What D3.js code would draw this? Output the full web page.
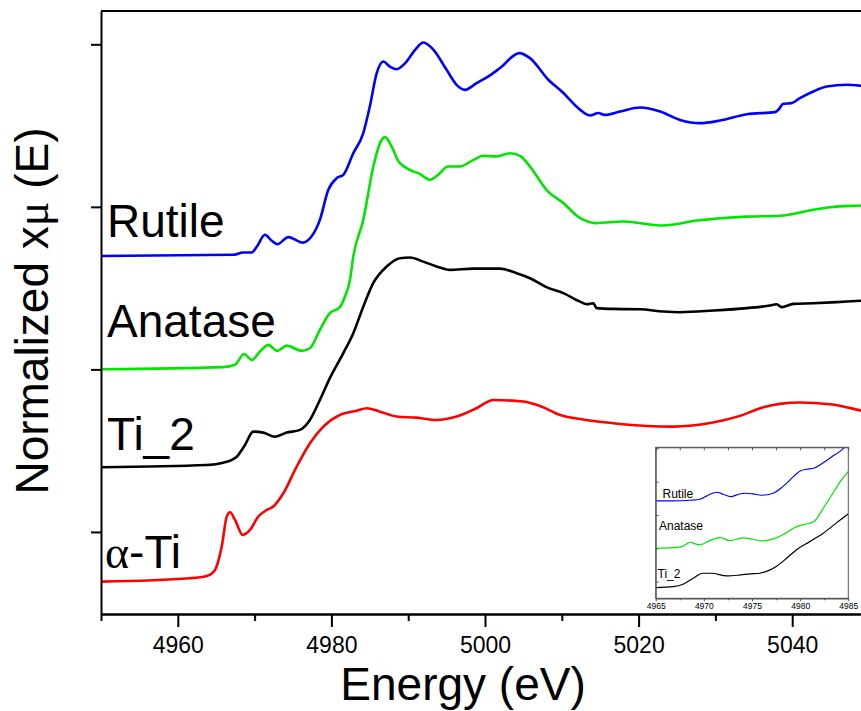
<!DOCTYPE html>
<html>
<head>
<meta charset="utf-8">
<script src="https://cdn.jsdelivr.net/npm/d3@7/dist/d3.min.js"></script>
<style>
  html, body { margin: 0; padding: 0; background: #fff; }
  svg { display: block; }
  text { font-family: "Liberation Sans", Arial, sans-serif; fill: #000; }
</style>
</head>
<body>
<svg id="chart" width="861" height="711"></svg>
<script>
// ---- Ti K-edge XANES spectra (stacked, normalized) ----
const rutileE = [4950, 4967.2, 4968.5, 4969.6, 4970.3, 4971.35, 4972.2, 4972.96, 4974.4, 4976.3, 4977.4, 4978.5, 4979.6, 4980.7, 4981.55, 4982.85, 4984.15, 4985.0, 4985.9, 4986.76, 4987.6, 4988.5, 4989.6, 4990.9, 4991.97, 4993.3, 4995.0, 4996.3, 4997.4, 4998.9, 5000.65, 5001.95, 5004.47, 5005.86, 5008.24, 5010.0, 5012.4, 5013.7, 5014.75, 5015.6, 5017.6, 5020.2, 5022.8, 5025.4, 5028.0, 5030.6, 5034.1, 5037.76, 5038.2, 5038.84, 5039.9, 5041.0, 5042.75, 5044.5, 5047.1, 5049.0, 5050];
const rutileMu = [1.698, 1.705, 1.719, 1.719, 1.756, 1.828, 1.793, 1.770, 1.814, 1.780, 1.817, 1.920, 2.105, 2.177, 2.197, 2.330, 2.454, 2.617, 2.823, 2.894, 2.863, 2.847, 2.884, 2.966, 3.011, 2.966, 2.843, 2.751, 2.720, 2.761, 2.809, 2.854, 2.946, 2.915, 2.782, 2.710, 2.597, 2.562, 2.577, 2.566, 2.587, 2.611, 2.587, 2.535, 2.515, 2.531, 2.570, 2.583, 2.597, 2.634, 2.638, 2.669, 2.710, 2.740, 2.751, 2.745, 2.740];

const anataseE = [4950, 4965.9, 4967.45, 4968.62, 4969.62, 4970.7, 4971.78, 4972.96, 4974.18, 4976.13, 4977.2, 4978.5, 4979.8, 4981.1, 4981.77, 4982.42, 4982.85, 4984.15, 4985.46, 4986.33, 4986.98, 4987.85, 4988.7, 4990.2, 4991.5, 4992.84, 4993.9, 4995.2, 4996.7, 4998.5, 4999.8, 5001.5, 5003.26, 5004.56, 5005.86, 5008.0, 5010.2, 5012.4, 5014.5, 5018.0, 5023.2, 5027.6, 5034.1, 5038.4, 5042.75, 5044.9, 5049.0, 5050];
const anataseMu = [1.001, 1.014, 1.028, 1.095, 1.058, 1.110, 1.151, 1.114, 1.146, 1.114, 1.130, 1.243, 1.346, 1.383, 1.448, 1.551, 1.694, 1.920, 2.248, 2.392, 2.429, 2.371, 2.283, 2.228, 2.203, 2.166, 2.197, 2.248, 2.248, 2.289, 2.314, 2.310, 2.330, 2.314, 2.248, 2.105, 2.023, 1.930, 1.900, 1.910, 1.885, 1.916, 1.940, 1.945, 1.982, 1.998, 2.008, 2.010];

const ti2E = [4950, 4963.76, 4965.9, 4967.67, 4968.75, 4969.83, 4971.13, 4972.66, 4974.18, 4975.9, 4977.2, 4978.5, 4979.8, 4981.55, 4982.85, 4984.15, 4985.46, 4987.2, 4988.93, 4990.23, 4991.97, 4993.7, 4995.44, 4998.5, 5001.95, 5004.13, 5005.86, 5008.0, 5010.2, 5012.37, 5013.24, 5014.1, 5014.54, 5016.7, 5020.2, 5023.2, 5025.4, 5029.7, 5034.1, 5037.1, 5037.98, 5038.63, 5040.14, 5042.75, 5045.8, 5049.0, 5050];
const ti2Mu = [0.398, 0.412, 0.426, 0.463, 0.535, 0.617, 0.611, 0.586, 0.611, 0.628, 0.689, 0.812, 0.946, 1.100, 1.223, 1.386, 1.532, 1.633, 1.684, 1.688, 1.663, 1.633, 1.612, 1.620, 1.620, 1.592, 1.561, 1.506, 1.469, 1.417, 1.401, 1.407, 1.377, 1.372, 1.370, 1.356, 1.352, 1.362, 1.377, 1.393, 1.401, 1.383, 1.403, 1.407, 1.414, 1.422, 1.424];

const alphaTiE = [4950, 4961.6, 4963.76, 4964.84, 4965.72, 4966.37, 4966.8, 4967.45, 4968.45, 4969.4, 4970.48, 4971.58, 4972.43, 4973.74, 4975.48, 4977.21, 4978.95, 4981.12, 4983.29, 4984.6, 4986.33, 4988.5, 4991.1, 4993.7, 4996.3, 4998.9, 5001.08, 5005.0, 5007.16, 5009.77, 5012.37, 5016.7, 5021.05, 5024.5, 5029.7, 5033.2, 5036.24, 5038.4, 5041.0, 5044.9, 5049.0, 5050];
const alphaTiMu = [-0.306, -0.285, -0.271, -0.234, -0.090, 0.094, 0.121, 0.074, -0.018, 0.012, 0.094, 0.135, 0.156, 0.238, 0.402, 0.546, 0.648, 0.720, 0.746, 0.761, 0.740, 0.710, 0.703, 0.689, 0.710, 0.761, 0.812, 0.802, 0.775, 0.720, 0.695, 0.669, 0.652, 0.648, 0.673, 0.714, 0.767, 0.788, 0.796, 0.786, 0.746, 0.735];

// ---- pre-edge region (inset) ----
const insetRutileE = [4965.0, 4966.8, 4968.6, 4969.6, 4970.5, 4971.3, 4972.0, 4972.8, 4973.6, 4974.3, 4975.1, 4976.0, 4977.2, 4978.2, 4979.3, 4980.0, 4980.7, 4981.4, 4982.2, 4983.3, 4984.1, 4984.6, 4985.0];
const insetRutileMu = [2.421, 2.421, 2.442, 2.472, 2.601, 2.682, 2.622, 2.550, 2.622, 2.652, 2.631, 2.592, 2.652, 2.850, 3.150, 3.321, 3.372, 3.402, 3.531, 3.750, 3.900, 4.026, 4.160];
const insetAnataseE = [4965.0, 4966.8, 4967.7, 4968.6, 4969.1, 4969.6, 4970.6, 4971.7, 4972.7, 4974.1, 4975.1, 4976.0, 4977.2, 4978.3, 4979.3, 4980.2, 4981.0, 4981.5, 4982.4, 4983.4, 4984.3, 4985.0];
const insetAnataseMu = [1.002, 1.020, 1.050, 1.182, 1.131, 1.101, 1.230, 1.320, 1.230, 1.311, 1.272, 1.221, 1.281, 1.422, 1.602, 1.701, 1.752, 1.821, 2.202, 2.652, 3.051, 3.300];
const insetTi2E = [4965.0, 4966.8, 4967.9, 4968.9, 4969.9, 4970.8, 4972.4, 4973.8, 4974.8, 4975.8, 4976.7, 4977.6, 4978.6, 4979.6, 4981.0, 4982.4, 4983.8, 4985.0];
const insetTi2Mu = [-0.180, -0.150, -0.069, 0.102, 0.252, 0.252, 0.171, 0.201, 0.231, 0.252, 0.330, 0.471, 0.702, 0.951, 1.200, 1.452, 1.770, 2.031];

// ---- ticks ----
const xMajorTicks = [4960, 4980, 5000, 5020, 5040];
const xMinorTicks = [4950, 4970, 4990, 5010, 5030, 5050];
const yTicks = [0, 1, 2, 3];
const insetXTicks = [4965, 4970, 4975, 4980, 4985];
const insetXMinorTicks = [4967.5, 4972.5, 4977.5, 4982.5];
const insetYTicks = [0, 1, 2, 3, 4];

const seriesNames = ["Rutile", "Anatase", "Ti_2", "α-Ti"];
const seriesColors = ["#0000ff", "#00e600", "#000000", "#ff0000"];

const zip = (E, M) => E.map((e, i) => ({ e, m: M[i] }));
const mainSeries = [
  zip(rutileE, rutileMu),
  zip(anataseE, anataseMu),
  zip(ti2E, ti2Mu),
  zip(alphaTiE, alphaTiMu)
];
const insetSeries = [
  zip(insetRutileE, insetRutileMu),
  zip(insetAnataseE, insetAnataseMu),
  zip(insetTi2E, insetTi2Mu)
];

const svg = d3.select("#chart");

// ---- main panel ----
const x = d3.scaleLinear().domain([4950, 5050]).range([101, 869]);
const y = d3.scaleLinear().domain([-0.505, 3.205]).range([614, 11]);

const defs = svg.append("defs");
defs.append("clipPath").attr("id", "mainClip")
  .append("rect").attr("x", 101).attr("y", 11).attr("width", 768).attr("height", 603);

const line = d3.line().x(d => x(d.e)).y(d => y(d.m)).curve(d3.curveMonotoneX);

svg.append("g").attr("clip-path", "url(#mainClip)")
  .selectAll("path").data(mainSeries).join("path")
  .attr("d", line)
  .attr("fill", "none")
  .attr("stroke", (d, i) => seriesColors[i])
  .attr("stroke-width", 2.6)
  .attr("stroke-linejoin", "round");

// frame: top and right borders
svg.append("path")
  .attr("d", `M${x(4950)},${y.range()[1]}H${x(5050)}V${y.range()[0]}`)
  .attr("fill", "none").attr("stroke", "#000").attr("stroke-width", 2);

// bottom axis (minor, then major with labels)
const xMinor = svg.append("g").attr("transform", `translate(0,${y.range()[0]})`)
  .call(d3.axisBottom(x).tickValues(xMinorTicks).tickSize(7).tickFormat("").tickSizeOuter(0));
const xMajor = svg.append("g").attr("transform", `translate(0,${y.range()[0]})`)
  .call(d3.axisBottom(x).tickValues(xMajorTicks).tickSize(13).tickPadding(10).tickSizeOuter(0)
    .tickFormat(d3.format("d")));
[xMinor, xMajor].forEach(g => {
  g.selectAll("path.domain").attr("stroke", "#000").attr("stroke-width", 2);
  g.selectAll(".tick line").attr("stroke", "#000").attr("stroke-width", 2);
});
xMajor.selectAll(".tick text")
  .attr("font-family", "Liberation Sans, Arial, sans-serif")
  .attr("font-size", 23).attr("fill", "#000");

// left axis, unlabeled ticks
const yAxis = svg.append("g").attr("transform", `translate(${x(4950)},0)`)
  .call(d3.axisLeft(y).tickValues(yTicks).tickSize(10).tickFormat("").tickSizeOuter(0));
yAxis.selectAll("path.domain").attr("stroke", "#000").attr("stroke-width", 2);
yAxis.selectAll(".tick line").attr("stroke", "#000").attr("stroke-width", 2);

// axis titles
svg.append("text")
  .attr("x", 463).attr("y", 700)
  .attr("text-anchor", "middle")
  .attr("font-size", 46)
  .text("Energy (eV)");

const yTitle = svg.append("text")
  .attr("transform", "translate(48,311) rotate(-90)")
  .attr("text-anchor", "middle")
  .attr("font-size", 46);
yTitle.append("tspan").text("Normalized x");
yTitle.append("tspan").attr("font-family", "Liberation Serif, Times New Roman, serif").text("μ");
yTitle.append("tspan").text(" (E)");

// curve labels
const labelPos = [[107, 237], [107, 337], [107, 450], [105, 568]];
svg.append("text").attr("x", labelPos[0][0]).attr("y", labelPos[0][1]).attr("font-size", 46).text(seriesNames[0]);
svg.append("text").attr("x", labelPos[1][0]).attr("y", labelPos[1][1]).attr("font-size", 46).text(seriesNames[1]);
svg.append("text").attr("x", labelPos[2][0]).attr("y", labelPos[2][1]).attr("font-size", 46).text(seriesNames[2]);
const aLab = svg.append("text").attr("x", labelPos[3][0]).attr("y", labelPos[3][1]).attr("font-size", 46);
aLab.append("tspan").attr("font-family", "Liberation Serif, Times New Roman, serif").text("α");
aLab.append("tspan").text("-Ti");

// ---- inset: pre-edge region ----
const ix = d3.scaleLinear().domain([4965, 4985]).range([655.7, 848.3]);
const iy = d3.scaleLinear().domain([-0.5, 4.03]).range([598.3, 447.3]);

defs.append("clipPath").attr("id", "insetClip")
  .append("rect").attr("x", 655.7).attr("y", 447.3).attr("width", 192.6).attr("height", 151);

const inset = svg.append("g");
inset.append("rect")
  .attr("x", 655.7).attr("y", 447.3).attr("width", 192.6).attr("height", 151)
  .attr("fill", "#fff").attr("stroke", "none");

const iline = d3.line().x(d => ix(d.e)).y(d => iy(d.m)).curve(d3.curveMonotoneX);
inset.append("g").attr("clip-path", "url(#insetClip)")
  .selectAll("path").data(insetSeries).join("path")
  .attr("d", iline)
  .attr("fill", "none")
  .attr("stroke", (d, i) => seriesColors[i])
  .attr("stroke-width", 1.2);

const frameColor = "#555";
inset.append("rect")
  .attr("x", 655.7).attr("y", 447.3).attr("width", 192.6).attr("height", 151)
  .attr("fill", "none").attr("stroke", frameColor).attr("stroke-width", 1);

// inset bottom axis
const ixAxis = inset.append("g").attr("transform", `translate(0,${iy.range()[0]})`)
  .call(d3.axisBottom(ix).tickValues(insetXTicks).tickSize(3).tickPadding(2).tickSizeOuter(0)
    .tickFormat(d3.format("d")));
const ixMinor = inset.append("g").attr("transform", `translate(0,${iy.range()[0]})`)
  .call(d3.axisBottom(ix).tickValues(insetXMinorTicks).tickSize(2).tickFormat("").tickSizeOuter(0));
// inset top ticks (inward)
const ixTop = inset.append("g").attr("transform", `translate(0,${iy.range()[1]})`)
  .call(d3.axisBottom(ix).tickValues(insetXTicks.concat(insetXMinorTicks)).tickSize(3).tickFormat("").tickSizeOuter(0));
// inset left ticks (inward)
const iyAxis = inset.append("g").attr("transform", `translate(${ix.range()[0]},0)`)
  .call(d3.axisRight(iy).tickValues(insetYTicks).tickSize(3).tickFormat("").tickSizeOuter(0));
[ixAxis, ixMinor, ixTop, iyAxis].forEach(g => {
  g.selectAll("path.domain").attr("stroke", frameColor).attr("stroke-width", 1);
  g.selectAll(".tick line").attr("stroke", frameColor).attr("stroke-width", 1);
});
ixAxis.selectAll(".tick text")
  .attr("font-family", "Liberation Sans, Arial, sans-serif")
  .attr("font-size", 8.5).attr("fill", "#000");

// inset labels
inset.append("text").attr("x", 662.5).attr("y", 497.5).attr("font-size", 12).text(seriesNames[0]);
inset.append("text").attr("x", 659).attr("y", 530).attr("font-size", 12).text(seriesNames[1]);
inset.append("text").attr("x", 657.5).attr("y", 578).attr("font-size", 12).text(seriesNames[2]);
</script>
</body>
</html>
